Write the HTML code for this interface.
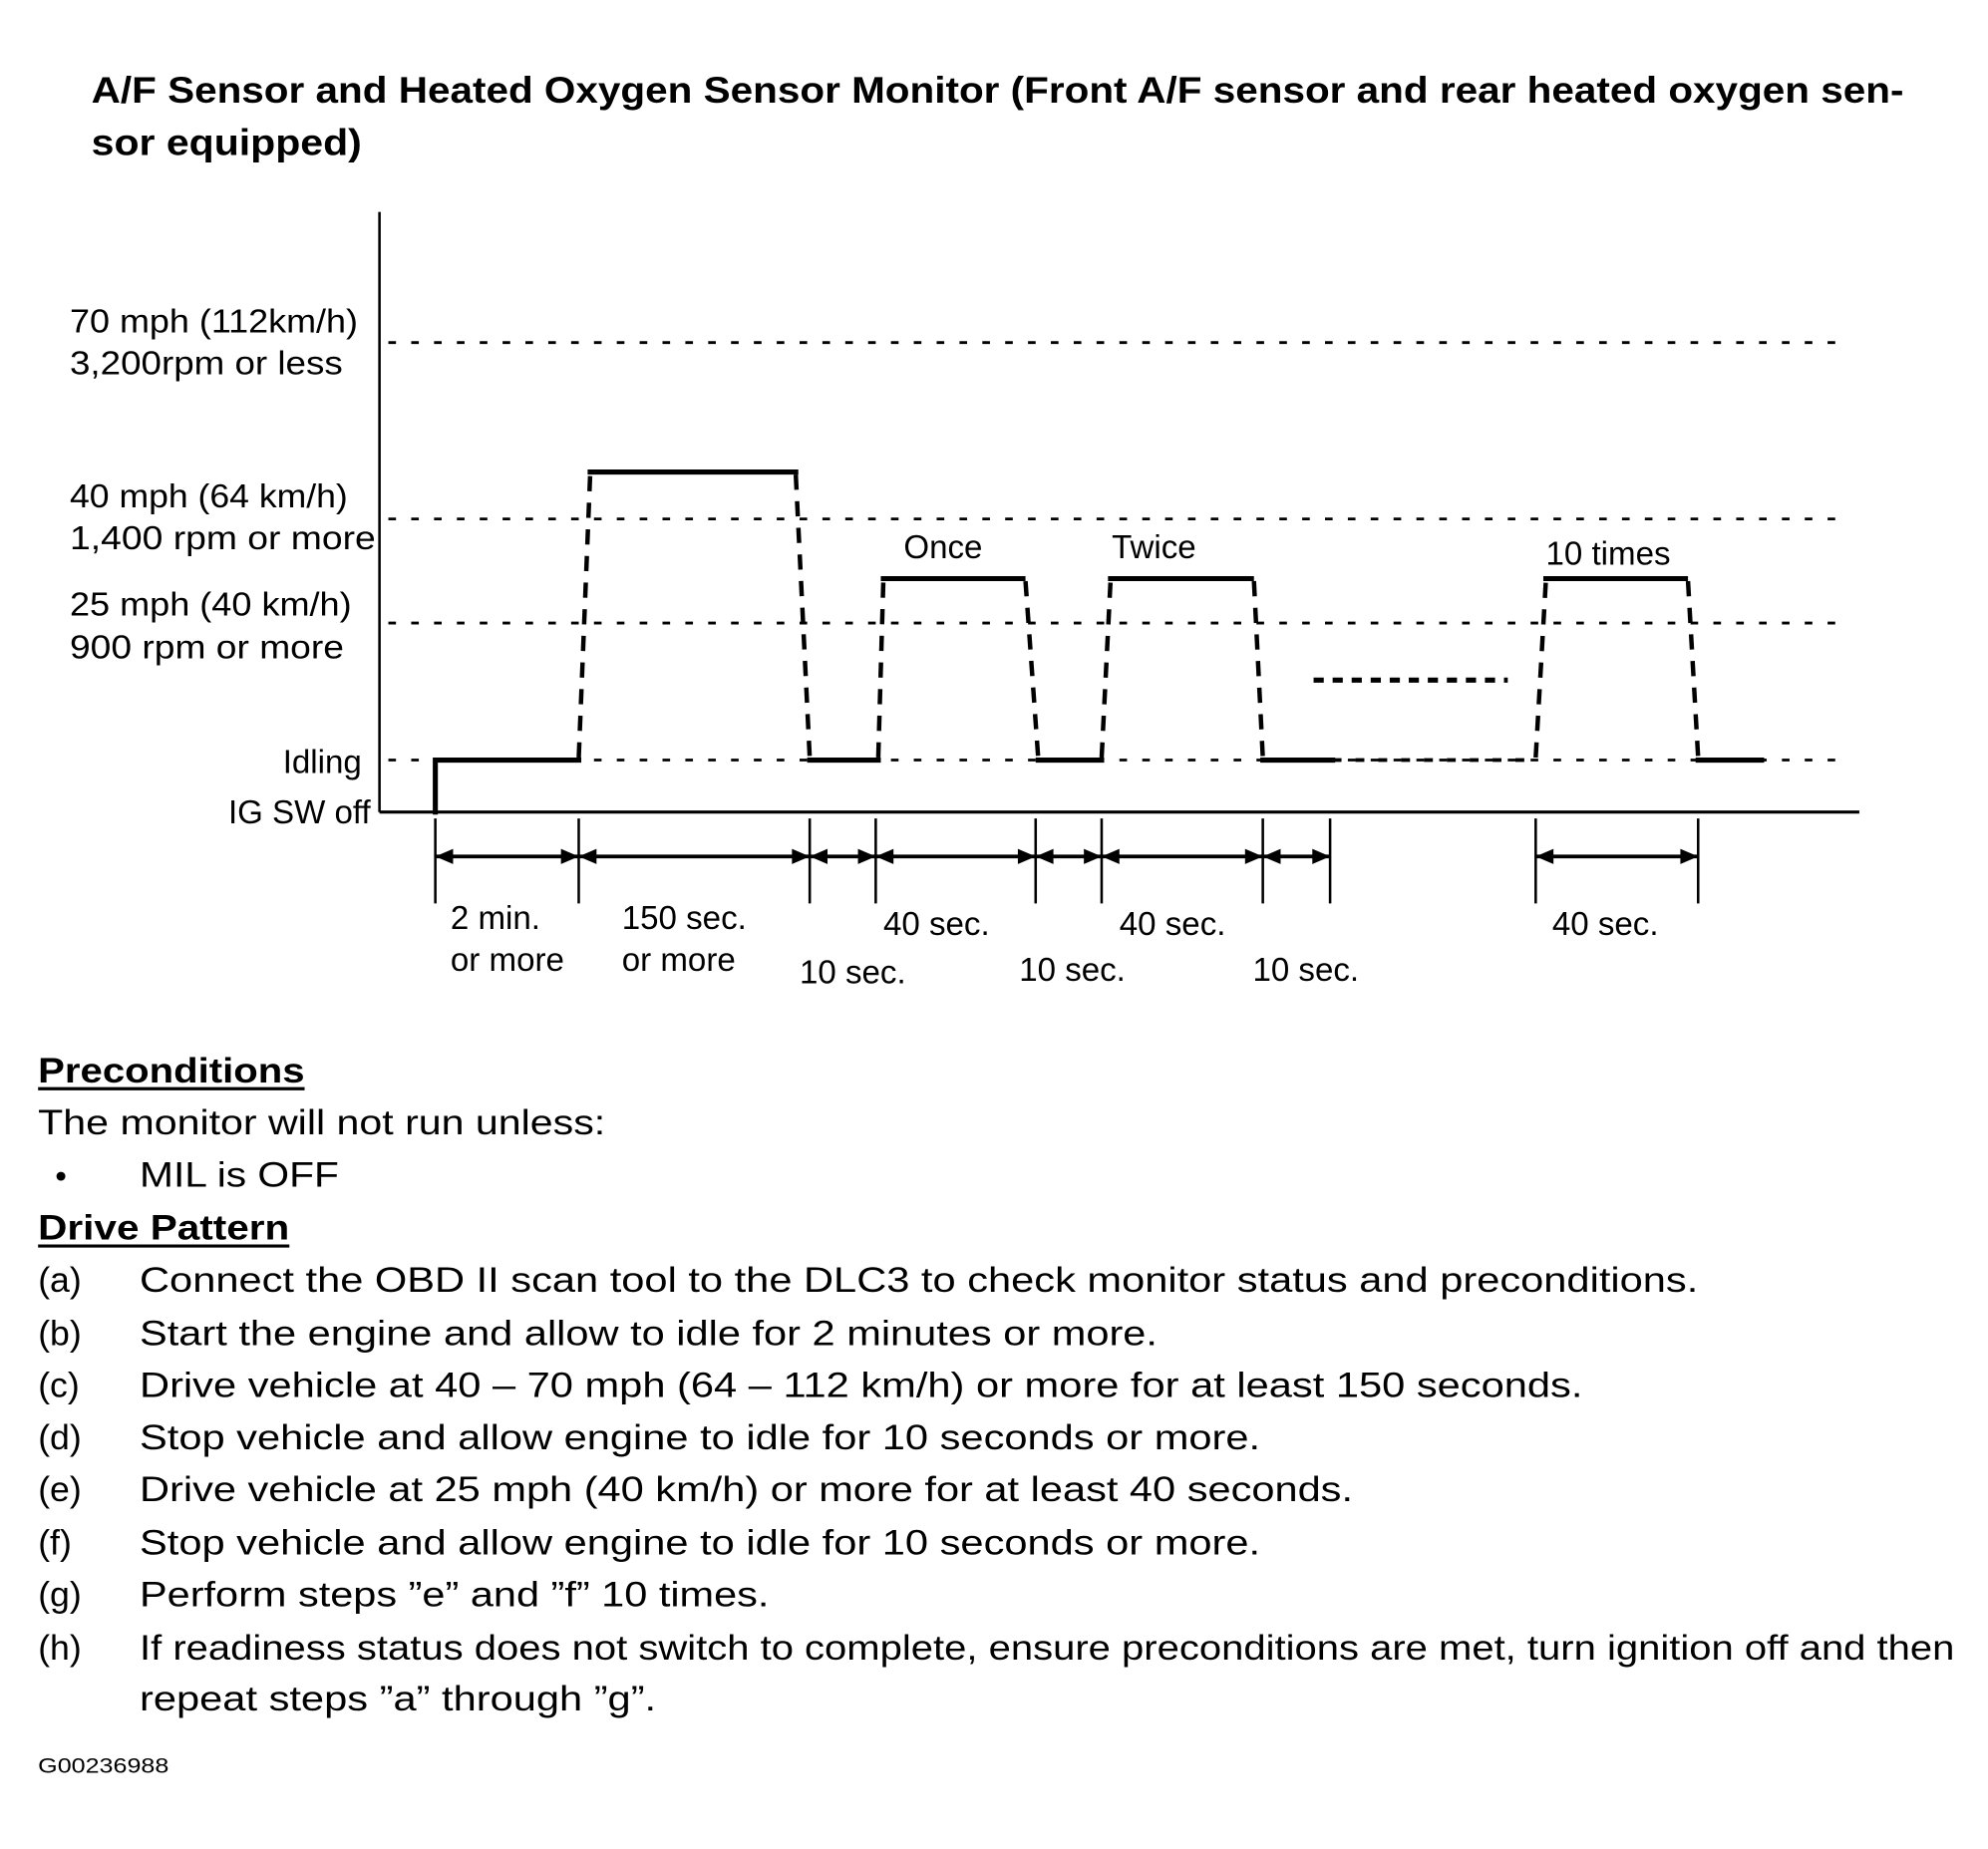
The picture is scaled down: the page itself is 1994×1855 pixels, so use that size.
<!DOCTYPE html>
<html><head><meta charset="utf-8"><style>
html,body{margin:0;padding:0;background:#fff;}
svg{display:block;}
text{font-family:"Liberation Sans",Arial,sans-serif;fill:#000;}
</style></head><body>
<svg width="1994" height="1855" viewBox="0 0 1994 1855" xmlns="http://www.w3.org/2000/svg">
<g transform="scale(1.273)">
<text x="72" y="81" font-size="29" font-weight="bold" textLength="1428" lengthAdjust="spacingAndGlyphs">A/F Sensor and Heated Oxygen Sensor Monitor (Front A/F sensor and rear heated oxygen sen-</text>
<text x="72" y="122" font-size="29" font-weight="bold" textLength="213" lengthAdjust="spacingAndGlyphs">sor equipped)</text>

<line x1="299" y1="167" x2="299" y2="640" stroke="#000" stroke-width="2"/>
<line x1="299" y1="640" x2="1465" y2="640" stroke="#000" stroke-width="2.5"/>

<g stroke="#000" stroke-width="2.2" stroke-dasharray="6 12">
<line x1="306" y1="270" x2="1458" y2="270"/>
<line x1="306" y1="409" x2="1458" y2="409"/>
<line x1="306" y1="491" x2="1458" y2="491"/>
<line x1="306" y1="599" x2="1458" y2="599"/>
</g>

<g font-size="26">
<text x="55" y="262" textLength="227" lengthAdjust="spacingAndGlyphs">70 mph (112km/h)</text>
<text x="55" y="295" textLength="215" lengthAdjust="spacingAndGlyphs">3,200rpm or less</text>
<text x="55" y="400" textLength="219" lengthAdjust="spacingAndGlyphs">40 mph (64 km/h)</text>
<text x="55" y="433" textLength="241" lengthAdjust="spacingAndGlyphs">1,400 rpm or more</text>
<text x="55" y="485" textLength="222" lengthAdjust="spacingAndGlyphs">25 mph (40 km/h)</text>
<text x="55" y="519" textLength="216" lengthAdjust="spacingAndGlyphs">900 rpm or more</text>
<text x="285" y="609" text-anchor="end">Idling</text>
<text x="292" y="649" text-anchor="end">IG SW off</text>
</g>

<g stroke="#000" stroke-width="4" fill="none" stroke-linecap="square">
<polyline points="343,640 343,599 456,599"/>
<line x1="465" y1="372" x2="627" y2="372"/>
<line x1="638" y1="599" x2="692" y2="599"/>
<line x1="696" y1="456" x2="806" y2="456"/>
<line x1="818" y1="599" x2="868" y2="599"/>
<line x1="875" y1="456" x2="986" y2="456"/>
<line x1="995" y1="599" x2="1050" y2="599"/>
<line x1="1218" y1="456" x2="1328" y2="456"/>
<line x1="1338" y1="599" x2="1388" y2="599"/>
</g>
<g stroke="#000" stroke-width="3.5" stroke-dasharray="12 9" fill="none">
<line x1="456" y1="597" x2="465" y2="374"/>
<line x1="627" y1="374" x2="638" y2="597"/>
<line x1="692" y1="597" x2="696" y2="458"/>
<line x1="808" y1="458" x2="818" y2="597"/>
<line x1="868" y1="597" x2="875" y2="458"/>
<line x1="988" y1="458" x2="995" y2="597"/>
<line x1="1210" y1="597" x2="1218" y2="458"/>
<line x1="1330" y1="458" x2="1338" y2="597"/>
</g>
<line x1="1050" y1="599" x2="1210" y2="599" stroke="#000" stroke-width="3" stroke-dasharray="7 11"/>
<line x1="1035" y1="536" x2="1188" y2="536" stroke="#000" stroke-width="4" stroke-dasharray="8 7"/>

<g font-size="26">
<text x="712" y="440">Once</text>
<text x="876" y="440">Twice</text>
<text x="1218" y="445">10 times</text>
</g>

<g stroke="#000" stroke-width="2">
<line x1="343" y1="645" x2="343" y2="712"/>
<line x1="456" y1="645" x2="456" y2="712"/>
<line x1="638" y1="645" x2="638" y2="712"/>
<line x1="690" y1="645" x2="690" y2="712"/>
<line x1="816" y1="645" x2="816" y2="712"/>
<line x1="868" y1="645" x2="868" y2="712"/>
<line x1="995" y1="645" x2="995" y2="712"/>
<line x1="1048" y1="645" x2="1048" y2="712"/>
<line x1="1210" y1="645" x2="1210" y2="712"/>
<line x1="1338" y1="645" x2="1338" y2="712"/>
</g>
<g stroke="#000" stroke-width="3">
<line x1="343" y1="675" x2="1048" y2="675"/>
<line x1="1210" y1="675" x2="1338" y2="675"/>
</g>
<g fill="#000">
<polygon points="343,675 357,669 357,681"/><polygon points="456,675 442,669 442,681"/>
<polygon points="456,675 470,669 470,681"/><polygon points="638,675 624,669 624,681"/>
<polygon points="638,675 652,669 652,681"/><polygon points="690,675 676,669 676,681"/>
<polygon points="690,675 704,669 704,681"/><polygon points="816,675 802,669 802,681"/>
<polygon points="816,675 830,669 830,681"/><polygon points="868,675 854,669 854,681"/>
<polygon points="868,675 882,669 882,681"/><polygon points="995,675 981,669 981,681"/>
<polygon points="995,675 1009,669 1009,681"/><polygon points="1048,675 1034,669 1034,681"/>
<polygon points="1210,675 1224,669 1224,681"/><polygon points="1338,675 1324,669 1324,681"/>
</g>

<g font-size="26">
<text x="355" y="732">2 min.</text>
<text x="355" y="765">or more</text>
<text x="490" y="732">150 sec.</text>
<text x="490" y="765">or more</text>
<text x="696" y="737">40 sec.</text>
<text x="630" y="775">10 sec.</text>
<text x="803" y="773">10 sec.</text>
<text x="882" y="737">40 sec.</text>
<text x="987" y="773">10 sec.</text>
<text x="1223" y="737">40 sec.</text>
</g>

<g font-size="28">
<text x="30" y="853" font-weight="bold" textLength="210" lengthAdjust="spacingAndGlyphs">Preconditions</text>
<line x1="30" y1="858" x2="240" y2="858" stroke="#000" stroke-width="2.5"/>
<text x="30" y="894" textLength="447" lengthAdjust="spacingAndGlyphs">The monitor will not run unless:</text>
<circle cx="48" cy="927" r="3.5" fill="#000"/>
<text x="110" y="935" textLength="157" lengthAdjust="spacingAndGlyphs">MIL is OFF</text>
<text x="30" y="977" font-weight="bold" textLength="198" lengthAdjust="spacingAndGlyphs">Drive Pattern</text>
<line x1="30" y1="982" x2="228" y2="982" stroke="#000" stroke-width="2.5"/>

<text x="30" y="1018">(a)</text>
<text x="110" y="1018" textLength="1228" lengthAdjust="spacingAndGlyphs">Connect the OBD II scan tool to the DLC3 to check monitor status and preconditions.</text>
<text x="30" y="1060">(b)</text>
<text x="110" y="1060" textLength="802" lengthAdjust="spacingAndGlyphs">Start the engine and allow to idle for 2 minutes or more.</text>
<text x="30" y="1101">(c)</text>
<text x="110" y="1101" textLength="1137" lengthAdjust="spacingAndGlyphs">Drive vehicle at 40 – 70 mph (64 – 112 km/h) or more for at least 150 seconds.</text>
<text x="30" y="1142">(d)</text>
<text x="110" y="1142" textLength="883" lengthAdjust="spacingAndGlyphs">Stop vehicle and allow engine to idle for 10 seconds or more.</text>
<text x="30" y="1183">(e)</text>
<text x="110" y="1183" textLength="956" lengthAdjust="spacingAndGlyphs">Drive vehicle at 25 mph (40 km/h) or more for at least 40 seconds.</text>
<text x="30" y="1225">(f)</text>
<text x="110" y="1225" textLength="883" lengthAdjust="spacingAndGlyphs">Stop vehicle and allow engine to idle for 10 seconds or more.</text>
<text x="30" y="1266">(g)</text>
<text x="110" y="1266" textLength="496" lengthAdjust="spacingAndGlyphs">Perform steps ”e” and ”f” 10 times.</text>
<text x="30" y="1308">(h)</text>
<text x="110" y="1308" textLength="1430" lengthAdjust="spacingAndGlyphs">If readiness status does not switch to complete, ensure preconditions are met, turn ignition off and then</text>
<text x="110" y="1348" textLength="407" lengthAdjust="spacingAndGlyphs">repeat steps ”a” through ”g”.</text>
</g>
<text x="30" y="1397" font-size="17" textLength="103" lengthAdjust="spacingAndGlyphs">G00236988</text>
</g>
</svg>
</body></html>
